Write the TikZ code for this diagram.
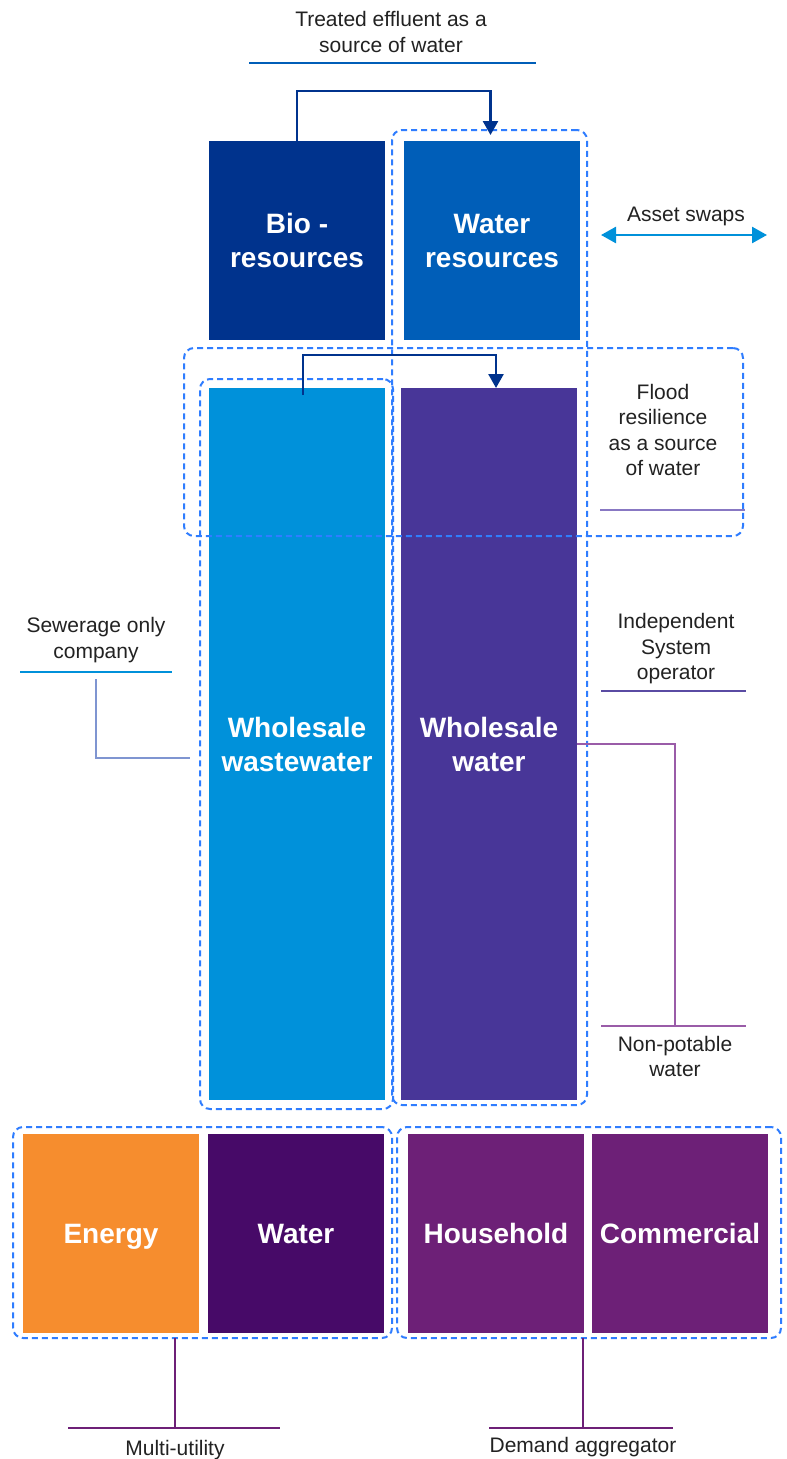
\documentclass[tikz,border=0pt]{standalone}
\usepackage{fontspec}
\setmainfont{Liberation Sans}
\usetikzlibrary{arrows.meta}
\definecolor{navy}{HTML}{00338D}
\definecolor{wrblue}{HTML}{005EB8}
\definecolor{wwblue}{HTML}{0091DA}
\definecolor{wpurple}{HTML}{483698}
\definecolor{eorange}{HTML}{F68D2E}
\definecolor{dpurple}{HTML}{470A68}
\definecolor{mpurple}{HTML}{6D2077}
\definecolor{dashblue}{HTML}{2F7DFF}
\definecolor{txt}{HTML}{222222}
\definecolor{floodrule}{HTML}{8878C3}
\definecolor{isorule}{HTML}{5A4BA3}
\definecolor{nprule}{HTML}{9A5CA8}
\definecolor{sewconn}{HTML}{7F95D1}
\begin{document}
\begin{tikzpicture}[x=1pt,y=-1pt,
  block/.style={inner sep=0pt, outer sep=0pt, minimum width=176pt, text=white,
    font=\bfseries\fontsize{28}{34}\selectfont, align=center, text depth=0pt},
  twoline/.style={text depth=-5pt},
  grp/.style={draw=dashblue, line width=2pt, dash pattern=on 6pt off 4pt,
    rounded corners=10pt, inner sep=0pt, outer sep=0pt},
  lbl/.style={font=\fontsize{21}{25.5}\selectfont, text=txt, align=center, inner sep=0pt},
  flow/.style={draw=navy, line width=2.6pt, -{Triangle[width=15pt,length=14pt]}},
  swap/.style={draw=wwblue, line width=2.6pt,
    {Triangle[width=16pt,length=15pt]}-{Triangle[width=16pt,length=15pt]}},
  rule/.style={line width=1.2pt}]
\useasboundingbox (0,0) rectangle (787,1459);
\fill[white] (0,0) rectangle (787,1459);

% coloured blocks
\node[block, twoline, fill=navy, minimum height=199pt] (bio) at (297,240.5) {Bio -\\resources};
\node[block, twoline, fill=wrblue, minimum height=199pt] (wres) at (492,240.5) {Water\\resources};
\node[block, twoline, fill=wwblue, minimum height=712pt] (wwaste) at (297,744) {Wholesale\\wastewater};
\node[block, twoline, fill=wpurple, minimum height=712pt] (wwat) at (489,744) {Wholesale\\water};
\node[block, fill=eorange, minimum height=199pt] (energy) at (111,1233.5) {Energy};
\node[block, fill=dpurple, minimum height=199pt] (water) at (296,1233.5) {Water};
\node[block, fill=mpurple, minimum height=199pt] (house) at (496,1233.5) {Household};
\node[block, fill=mpurple, minimum height=199pt] (comm) at (680,1233.5) {Commercial};

% dashed groupings
\node[grp, minimum width=195pt, minimum height=975pt] (fwr) at (489.5,617.5) {};
\node[grp, minimum width=559pt, minimum height=188pt] (fflood) at (463.5,442) {};
\node[grp, minimum width=193pt, minimum height=730pt] (fwaste) at (296.5,744) {};
\node[grp, minimum width=379pt, minimum height=211pt] (fmu) at (202.5,1232.5) {};
\node[grp, minimum width=384pt, minimum height=211pt] (fda) at (589,1232.5) {};

% flows between blocks
\coordinate (a1e) at (490.5,135);
\draw[flow] (bio.north) -- ++(0,-50) -| (a1e);
\coordinate (a2s) at (303,395);
\coordinate (a2e) at (496,388);
\draw[flow] (a2s) -- (303,355) -| (a2e);

% asset swaps
\coordinate (as1) at (601,235);
\coordinate (as2) at (767,235);
\draw[swap] (as1) -- (as2);
\node[lbl] (asset) at (686,216) {Asset swaps};

% labels and their rules
\node[lbl] (treated) at (391,32) {Treated effluent as a\\source of water};
\draw[rule, draw=wrblue] (249,63) -- (536,63);

\node[lbl] (flood) at (663,430) {Flood\\resilience\\as a source\\of water};
\draw[rule, draw=floodrule] (600,510) -- (745,510);

\node[lbl] (sewer) at (96,640) {Sewerage only\\company};
\draw[rule, draw=wwblue] (20,672) -- (172,672);
\coordinate (sc1) at (96,679);
\coordinate (sc2) at (190,758);
\draw[rule, draw=sewconn] (sc1) |- (sc2);

\node[lbl] (iso) at (676,649) {Independent\\System\\operator};
\draw[rule, draw=isorule] (601,691) -- (746,691);

\node[lbl] (nonpot) at (675,1056.5) {Non-potable\\water};
\draw[rule, draw=nprule] (601,1026) -- (746,1026);
\coordinate (np) at (675,1026);
\draw[rule, draw=nprule] (np) |- (wwat.east);

\coordinate (mu1) at (175,1338);
\coordinate (mu2) at (175,1428);
\draw[rule, draw=mpurple] (mu1) -- (mu2);
\draw[rule, draw=mpurple] (68,1428) -- (280,1428);
\node[lbl] (multi) at (175,1450) {Multi-utility};

\coordinate (da1) at (583,1338);
\coordinate (da2) at (583,1428);
\draw[rule, draw=mpurple] (da1) -- (da2);
\draw[rule, draw=mpurple] (489,1428) -- (673,1428);
\node[lbl] (demand) at (583,1447) {Demand aggregator};
\end{tikzpicture}
\end{document}
